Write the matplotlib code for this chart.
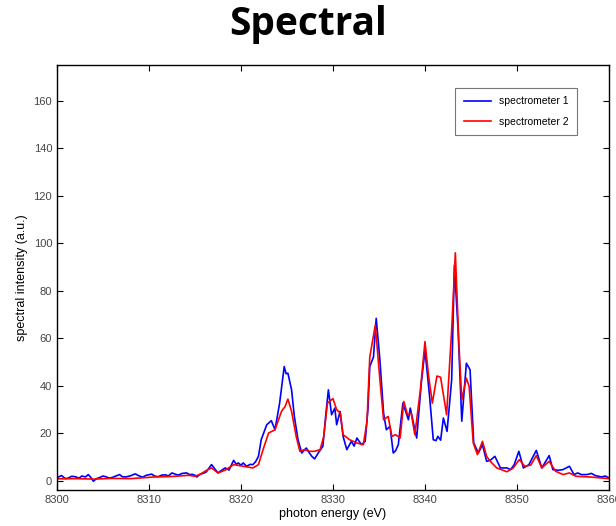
import numpy as np
import matplotlib
matplotlib.use("Agg")
import matplotlib.pyplot as plt

# spectrometer 1 (blue)
energy_1 = [8300.0, 8300.5, 8300.9, 8301.2, 8301.6, 8302.0, 8302.4, 8302.7, 8303.1, 8303.4,
            8303.7, 8303.95, 8304.3, 8304.6, 8305.0, 8305.3, 8305.7, 8306.0, 8306.4, 8306.8,
            8307.1, 8307.5, 8308.0, 8308.5, 8308.9, 8309.3, 8309.7, 8310.3, 8310.6, 8311.0,
            8311.4, 8311.8, 8312.1, 8312.5, 8312.9, 8313.2, 8313.6, 8314.1, 8314.4, 8314.7,
            8315.0, 8315.2, 8315.5, 8316.2, 8316.8, 8317.5, 8318.0, 8318.3, 8318.7, 8319.2,
            8319.5, 8319.7, 8320.0, 8320.25, 8320.6, 8321.0, 8321.3, 8321.6, 8321.9, 8322.2,
            8322.8, 8323.3, 8323.7, 8324.2, 8324.7, 8324.9, 8325.1, 8325.5, 8325.8, 8326.2,
            8326.6, 8327.1, 8327.4, 8327.7, 8328.0, 8328.4, 8328.9, 8329.2, 8329.5, 8329.85,
            8330.2, 8330.4, 8330.77, 8331.1, 8331.5, 8332.0, 8332.3, 8332.6, 8333.1, 8333.5,
            8333.8, 8334.0, 8334.4, 8334.7, 8335.1, 8335.5, 8335.8, 8336.2, 8336.55, 8336.8,
            8337.1, 8337.6, 8338.2, 8338.4, 8339.1, 8339.6, 8340.0, 8340.5, 8340.9, 8341.2,
            8341.4, 8341.7, 8342.0, 8342.4, 8342.9, 8343.2, 8343.6, 8344.0, 8344.5, 8344.9,
            8345.3, 8345.8, 8346.25, 8346.7, 8347.1, 8347.6, 8348.2, 8348.9, 8349.3, 8349.7,
            8350.2, 8350.7, 8351.3, 8352.1, 8352.7, 8353.5, 8353.9, 8354.5, 8355.0, 8355.7,
            8356.2, 8356.6, 8357.0, 8357.6, 8358.1, 8358.5, 8359.2, 8359.6, 8360.0]
intensity_1 = [1.2, 2.1, 0.8, 1.0, 1.8, 1.6, 1.0, 1.9, 1.5, 2.5,
               1.2, -0.3, 0.8, 1.2, 1.9, 1.6, 1.0, 1.3, 1.9, 2.5,
               1.6, 1.5, 2.0, 2.8, 2.0, 1.4, 2.2, 2.7, 1.9, 1.6,
               2.3, 2.4, 1.9, 3.2, 2.6, 2.3, 3.0, 3.2, 2.5, 2.6,
               2.2, 1.5, 2.5, 3.5, 6.7, 3.2, 4.6, 5.3, 4.4, 8.5,
               6.8, 7.4, 6.5, 7.4, 6.0, 6.8, 6.7, 8.0, 10.2, 17.2,
               23.5, 25.2, 21.4, 32.6, 48.0, 45.0, 45.2, 38.2, 27.0, 17.2,
               11.6, 13.7, 11.8, 10.2, 9.1, 11.6, 14.4, 27.0, 38.2, 27.7,
               30.5, 23.5, 29.1, 18.6, 13.0, 16.5, 14.5, 17.9, 15.1, 16.5,
               30.0, 48.0, 52.0, 68.3, 50.8, 28.4, 21.4, 22.8, 11.6, 12.5,
               15.1, 32.6, 25.6, 30.5, 17.9, 41.0, 55.0, 35.5, 17.2, 16.8,
               18.6, 17.0, 26.3, 20.7, 42.4, 90.7, 63.4, 25.0, 49.4, 46.6,
               15.8, 11.6, 15.1, 8.1, 8.5, 10.2, 5.3, 5.3, 4.6, 6.7,
               12.3, 5.3, 6.7, 12.7, 5.3, 10.5, 4.6, 4.3, 4.6, 6.0,
               2.5, 3.2, 2.5, 2.5, 3.0, 2.1, 1.5, 1.9, 1.1]

# spectrometer 2 (red)
energy_2 = [8300.0, 8302.0, 8304.0, 8306.0, 8308.0, 8310.6, 8312.5, 8314.3, 8315.0, 8315.5,
            8316.4, 8316.8, 8317.5, 8318.3, 8319.2, 8320.25, 8321.3, 8321.9, 8322.4, 8323.0,
            8323.7, 8324.4, 8324.8, 8325.1, 8325.5, 8326.0, 8326.4, 8326.9, 8327.5, 8328.0,
            8328.6, 8329.0, 8329.4, 8330.0, 8330.4, 8330.8, 8331.1, 8331.8, 8332.6, 8333.3,
            8333.7, 8334.0, 8334.6, 8335.1, 8335.5, 8336.0, 8336.4, 8336.8, 8337.3, 8337.7,
            8338.1, 8338.5, 8338.9, 8339.5, 8340.0, 8340.4, 8340.8, 8341.3, 8341.7, 8342.35,
            8342.9, 8343.3, 8343.7, 8344.0, 8344.5, 8344.8, 8345.25, 8345.7, 8346.25, 8346.7,
            8347.1, 8347.8, 8348.9, 8349.6, 8350.25, 8350.85, 8351.5, 8352.1, 8352.7, 8353.5,
            8354.2, 8355.0, 8355.7, 8356.4, 8357.9, 8360.0]
intensity_2 = [0.7, 0.8, 0.6, 0.9, 0.8, 1.5, 1.7, 2.2, 1.8, 2.5,
               4.6, 5.3, 3.2, 4.4, 6.7, 6.0, 5.3, 6.7, 13.0, 20.0,
               21.4, 29.1, 31.2, 34.3, 29.1, 18.6, 12.3, 13.0, 12.3, 12.3,
               13.0, 18.6, 32.6, 34.5, 29.8, 28.4, 19.3, 17.2, 15.8, 15.1,
               25.0, 52.0, 65.5, 42.4, 25.6, 27.0, 18.6, 19.3, 17.9, 33.3,
               27.7, 28.4, 19.3, 38.2, 58.5, 43.8, 32.6, 44.0, 43.5, 27.7,
               63.4, 95.9, 56.4, 34.0, 43.1, 39.6, 15.8, 10.9, 16.5, 10.2,
               8.1, 5.3, 3.7, 5.3, 8.8, 6.0, 6.5, 10.5, 5.3, 8.1,
               3.9, 2.5, 3.2, 1.8, 1.5, 0.8]

x_ticks = [8300, 8310, 8320, 8330, 8340, 8350, 8360]
y_ticks = [0, 20, 40, 60, 80, 100, 120, 140, 160]

plt.rcParams['font.family'] = ['Liberation Sans', 'DejaVu Sans']

fig = plt.figure(figsize=(6.16, 5.26), dpi=100)
ax = fig.add_axes([0.0925, 0.0684, 0.8961, 0.808])

ax.plot(energy_1, intensity_1, color='#0000ff', lw=1.2, label='spectrometer 1')
ax.plot(energy_2, intensity_2, color='#ff0000', lw=1.2, label='spectrometer 2')

ax.set_xlim(8300, 8360)
ax.set_ylim(-4, 175)
ax.set_xticks(x_ticks)
ax.set_yticks(y_ticks)
ax.tick_params(direction='in', length=4, width=0.8, top=True, right=True,
               labelsize=8, labelcolor='#444444')
for s in ax.spines.values():
    s.set_linewidth(1.0)

ax.set_xlabel('photon energy (eV)', fontsize=9, labelpad=2)
ax.set_ylabel('spectral intensity (a.u.)', fontsize=9, labelpad=4)

leg = ax.legend(loc='upper right', bbox_to_anchor=(0.942, 0.946), fontsize=7.5,
                handlelength=2.6, borderaxespad=0, fancybox=False,
                edgecolor='#555555', labelspacing=1.0, borderpad=0.8)
leg.get_frame().set_linewidth(0.8)

fig.text(0.5, 0.953, 'Spectral', ha='center', va='center', fontsize=28,
         fontweight='bold', family=['Open Sans', 'DejaVu Sans'])

fig.savefig('out.png', dpi=100)
